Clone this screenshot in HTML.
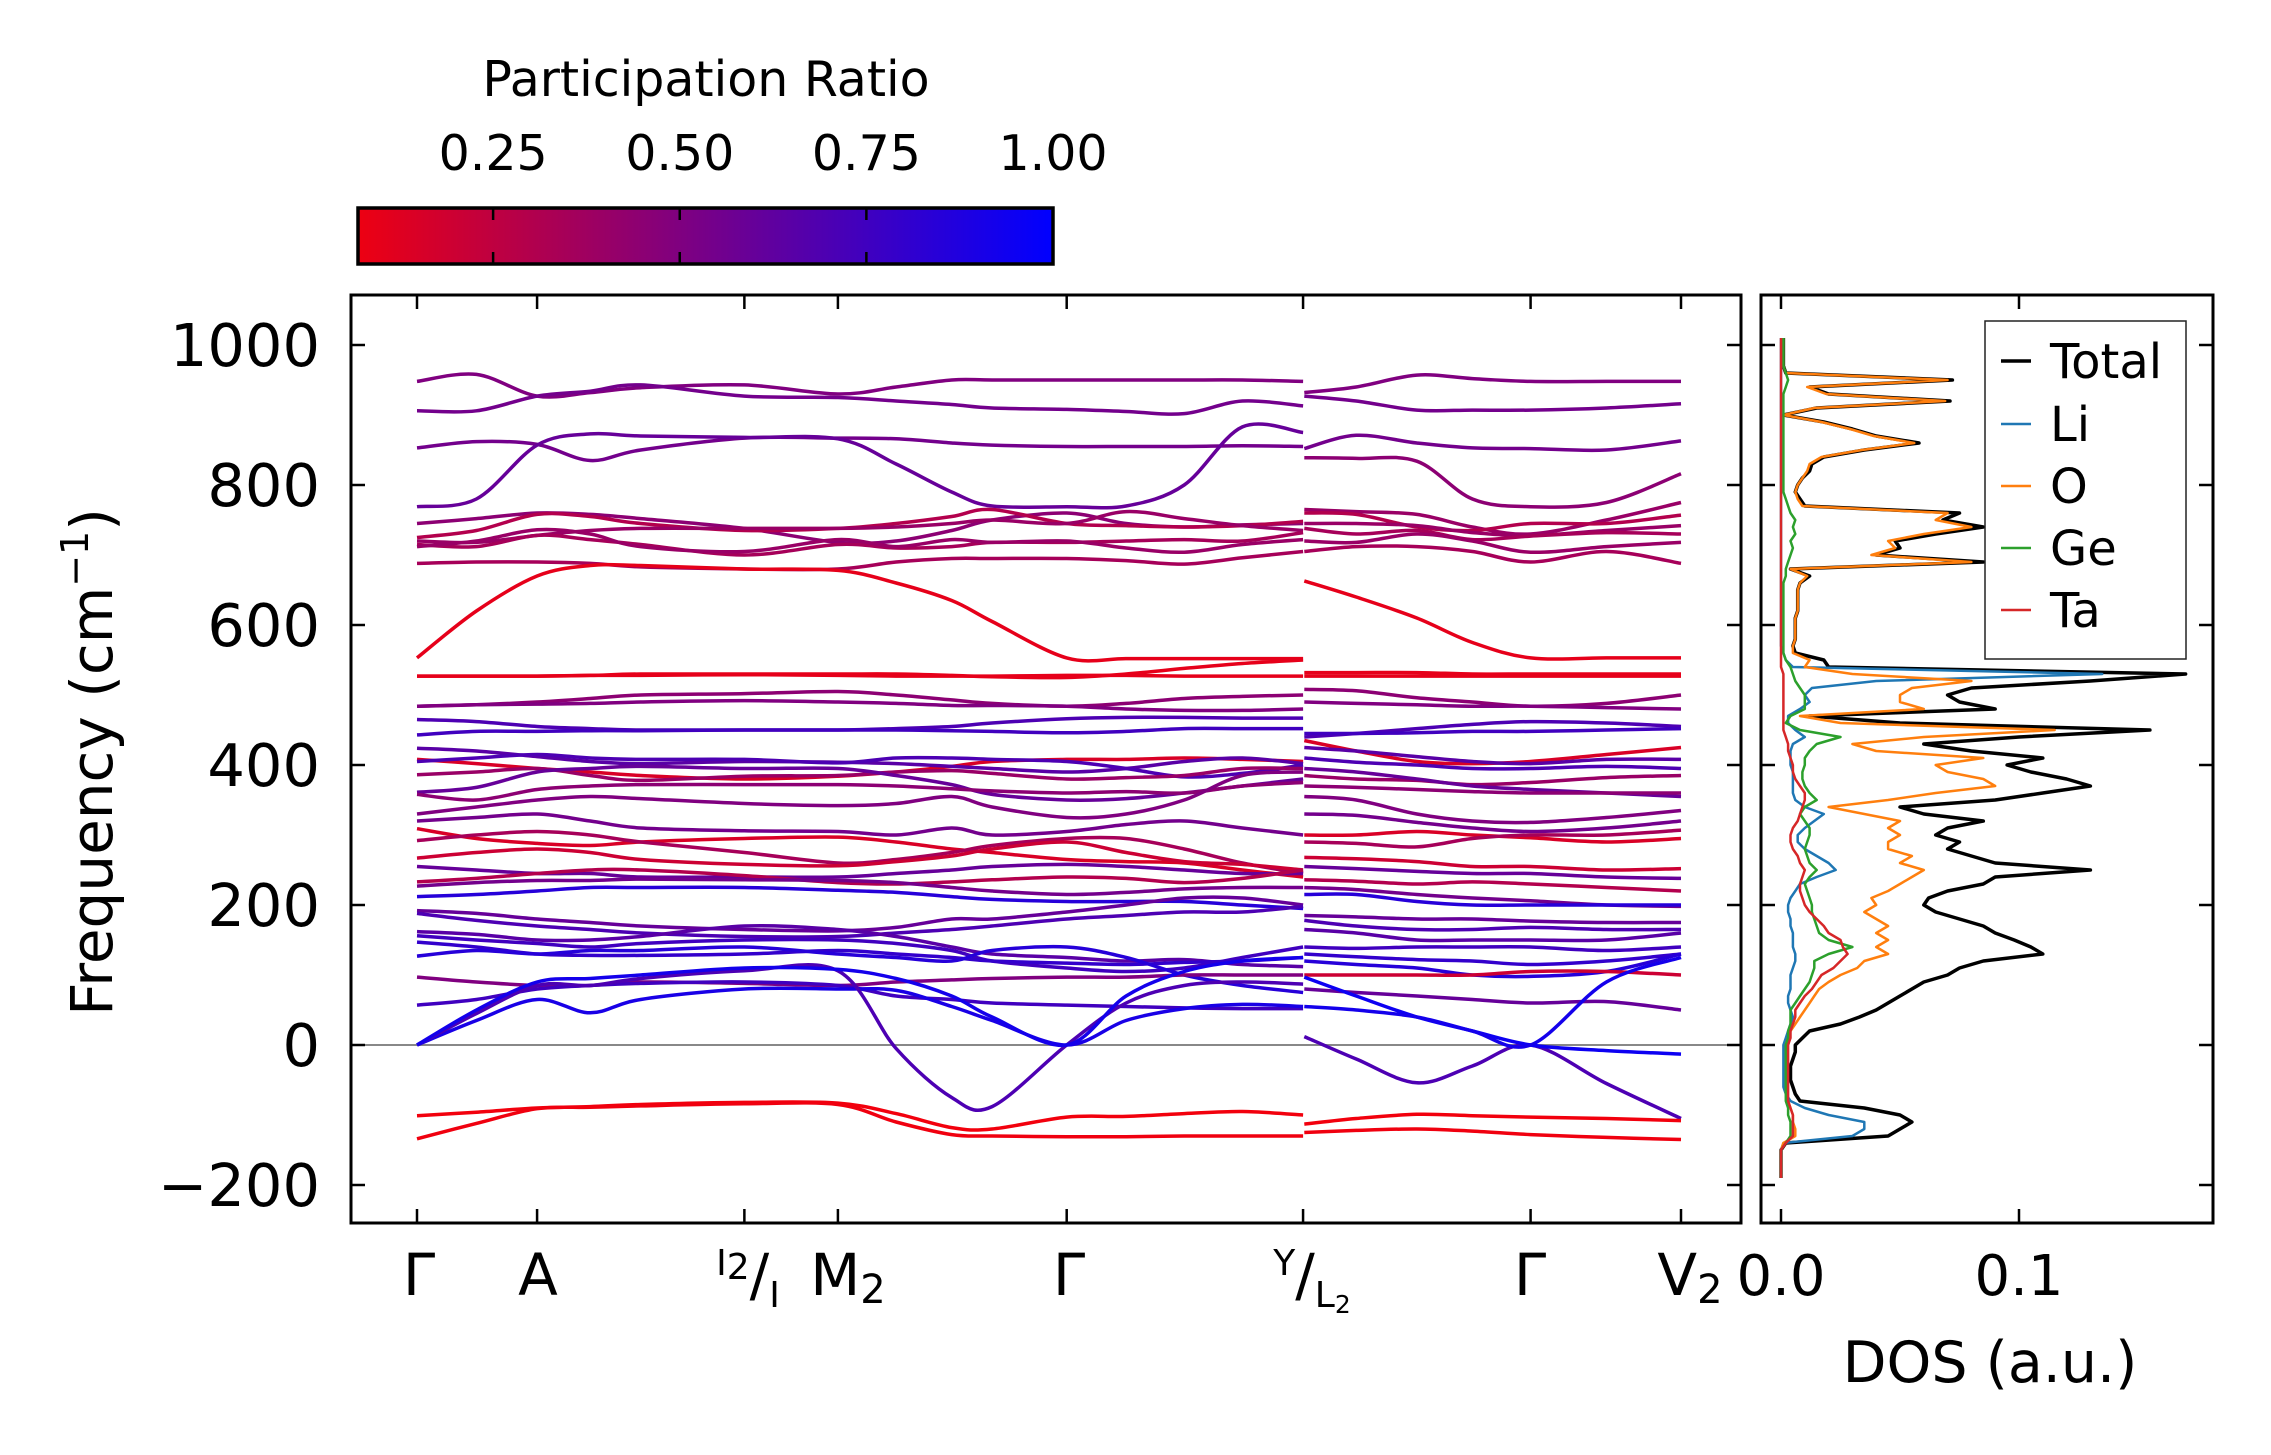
<!DOCTYPE html>
<html><head><meta charset="utf-8"><style>
html,body{margin:0;padding:0;background:#fff;}
svg{display:block;font-family:"DejaVu Sans","Liberation Sans",sans-serif;}
</style></head><body>
<svg id="fig" width="2271" height="1455" viewBox="0 0 2271 1455" xmlns="http://www.w3.org/2000/svg">
<defs>
<linearGradient id="prgrad" x1="0" x2="1" y1="0" y2="0">
<stop offset="0" stop-color="rgb(237,0,18)"/><stop offset="1" stop-color="rgb(0,0,255)"/>
</linearGradient>
<clipPath id="mainclip"><rect x="351" y="295" width="1390" height="928"/></clipPath>
<clipPath id="dosclip"><rect x="1761" y="295" width="452" height="928"/></clipPath>
</defs>
<g id="colorbar">
<text x="706" y="96" font-size="49" text-anchor="middle">Participation Ratio</text>
<rect x="358" y="208" width="695" height="56" fill="url(#prgrad)" stroke="#000" stroke-width="3.5"/>
</g>
<g id="bands" clip-path="url(#mainclip)"></g>
<g id="dos" clip-path="url(#dosclip)"></g>
<g id="axes"></g>
<g>
<rect x="1985" y="321" width="201" height="338" fill="#fff" stroke="#222" stroke-width="1.5"/>
<g><line x1="2001" x2="2031" y1="361" y2="361" stroke="#000" stroke-width="3.5"/><text x="2050" y="378" font-size="48">Total</text></g>
<g><line x1="2001" x2="2031" y1="424" y2="424" stroke="#1f77b4" stroke-width="2.5"/><text x="2050" y="441" font-size="48">Li</text></g>
<g><line x1="2001" x2="2031" y1="486" y2="486" stroke="#ff7f0e" stroke-width="2.5"/><text x="2050" y="503" font-size="48">O</text></g>
<g><line x1="2001" x2="2031" y1="548" y2="548" stroke="#2ca02c" stroke-width="2.5"/><text x="2050" y="565" font-size="48">Ge</text></g>
<g><line x1="2001" x2="2031" y1="610" y2="610" stroke="#d62728" stroke-width="2.5"/><text x="2050" y="627" font-size="48">Ta</text></g>
</g>
<text transform="translate(112,762) rotate(-90)" font-size="58" text-anchor="middle">Frequency (cm<tspan font-size="38" dy="-24">−1</tspan><tspan dy="24">)</tspan></text>
<text x="1990" y="1382" font-size="57" text-anchor="middle">DOS (a.u.)</text>
<g font-size="58" text-anchor="middle">
<text x="419" y="1295">Γ</text>
<text x="538" y="1295">A</text>
<text x="748" y="1295"><tspan font-size="36" dy="-20">I</tspan><tspan font-size="36" dy="4">2</tspan><tspan dy="16">/</tspan><tspan font-size="36" dy="12">I</tspan></text>
<text x="848" y="1295">M<tspan font-size="40" dy="8">2</tspan></text>
<text x="1069" y="1295">Γ</text>
<text x="1312" y="1295"><tspan font-size="36" dy="-20">Y</tspan><tspan dy="20">/</tspan><tspan font-size="36" dy="12">L</tspan><tspan font-size="25" dy="6">2</tspan></text>
<text x="1530" y="1295">Γ</text>
<text x="1690" y="1295">V<tspan font-size="40" dy="8">2</tspan></text>
</g>
</svg>
<script>
// ---------- data ----------
const kLeft = [0,0.047,0.095,0.137,0.177,0.259,0.333,0.379,0.423,0.455,0.514,0.561,0.607,0.653,0.701];
const kRight = [0.702,0.743,0.791,0.835,0.881,0.941,1.0];
const kTicks = [0,0.095,0.259,0.333,0.514,0.701,0.881,1.0];
const freqTicks = [-200,0,200,400,600,800,1000];
const prTicks = [0.25,0.5,0.75,1.0];
const prTickLabels = ["0.25","0.50","0.75","1.00"];
const dosTicks = [0.0,0.1];
const dosTickLabels = ["0.0","0.1"];

const bandsLeft = [
[948,958,927,932,939,943,930,940,950,950,950,950,950,950,948],
[906,906,927,934,943,927,925,920,915,910,908,905,902,920,913],
[853,862,858,835,850,867,867,866,860,857,855,855,855,856,855],
[769,780,857,873,870,868,866,830,790,770,769,770,800,883,875],
[745,752,760,758,752,738,718,720,735,750,760,745,740,743,745],
[725,735,758,755,745,735,738,745,755,765,745,742,740,742,748],
[720,718,728,735,738,738,738,740,745,750,745,762,752,742,735],
[715,712,728,722,715,700,715,710,712,718,718,720,722,720,732],
[712,720,736,730,712,705,722,712,722,718,720,710,704,715,722],
[688,690,690,688,683,680,680,690,695,695,695,692,687,696,705],
[553,620,670,685,685,680,678,660,635,605,553,552,552,552,552],
[527,527,527,528,530,530,530,530,528,526,525,530,538,545,550],
[527,527,527,528,528,529,528,527,527,527,528,528,527,527,527],
[484,486,490,495,500,502,505,500,493,488,484,488,495,498,500],
[484,486,487,488,490,492,490,488,485,485,484,480,478,478,480],
[465,462,455,452,450,450,450,452,455,460,466,468,468,467,467],
[443,448,448,449,449,450,450,450,449,448,446,448,452,452,452],
[408,402,395,390,385,380,384,390,398,405,408,408,410,408,405],
[424,420,412,405,402,405,404,402,398,395,390,395,405,410,402],
[405,410,415,410,408,408,403,410,410,408,405,395,383,388,400],
[386,390,395,385,378,384,385,390,392,388,380,382,385,395,395],
[361,368,390,395,398,395,395,385,372,358,350,352,360,370,380],
[358,350,365,370,372,372,372,370,366,363,360,362,360,370,375],
[330,340,350,355,352,345,342,345,355,340,325,330,350,385,390],
[320,325,330,320,310,306,305,300,310,300,305,315,320,310,300],
[309,295,288,285,290,295,297,290,280,275,265,262,260,250,240],
[292,300,305,300,290,275,260,265,275,285,295,295,280,260,245],
[267,275,280,275,265,258,256,262,270,280,290,275,262,258,250],
[255,250,245,245,240,240,240,245,250,255,258,255,250,245,245],
[233,238,245,250,250,242,232,230,233,236,240,238,232,238,250],
[227,232,235,235,237,236,235,232,225,220,215,218,223,225,225],
[212,215,220,225,225,225,221,218,212,208,205,205,205,200,195],
[192,188,180,175,170,165,163,168,180,180,190,200,210,210,200],
[188,178,170,165,160,155,155,160,165,170,180,185,190,190,198],
[162,158,150,150,155,170,165,155,140,130,125,120,122,115,112],
[156,150,145,140,145,150,150,145,135,120,110,105,110,125,140],
[147,140,130,128,128,130,135,130,125,120,117,115,118,120,125],
[127,135,130,135,135,140,130,125,120,135,140,125,100,85,75],
[97,90,85,85,90,88,85,90,93,95,97,97,100,100,100],
[57,65,80,85,88,90,85,70,65,60,57,55,53,52,52],
[0,35,65,46,65,80,80,78,55,35,0,35,52,58,55],
[0,45,85,85,95,106,106,-5,-75,-88,0,60,85,90,87],
[0,50,90,95,100,110,108,95,70,40,0,70,105,120,125],
[-101,-96,-90,-88,-85,-82,-83,-98,-118,-120,-103,-102,-98,-95,-100],
[-134,-112,-91,-89,-87,-84,-85,-110,-128,-130,-131,-131,-130,-130,-130]
];
const bandsRight = [
[932,940,957,952,948,948,948],
[927,920,907,907,907,910,916],
[852,871,860,853,852,850,863],
[839,838,834,780,769,775,816],
[765,762,758,740,730,750,775],
[760,758,740,735,745,745,757],
[745,745,742,732,728,735,742],
[738,730,735,722,727,732,730],
[720,718,730,720,704,712,718],
[705,712,712,705,690,705,688],
[663,640,610,575,553,553,553],
[527,527,527,527,527,527,527],
[532,532,532,530,530,530,530],
[508,506,496,490,484,488,500],
[490,488,486,484,484,482,480],
[440,445,452,458,462,460,455],
[445,445,446,448,448,450,452],
[435,420,405,402,405,415,425],
[425,420,412,405,402,408,408],
[410,404,400,395,395,398,395],
[385,380,378,372,375,382,385],
[395,390,380,370,365,360,355],
[370,368,365,362,360,360,360],
[355,350,330,320,318,325,335],
[330,328,318,310,305,310,320],
[300,300,305,300,296,290,295],
[290,288,283,295,300,300,307],
[268,266,262,255,255,250,252],
[255,252,248,245,245,240,238],
[236,234,230,233,230,225,220],
[225,222,215,210,206,200,198],
[215,215,205,200,200,200,200],
[185,183,180,180,177,175,175],
[178,170,165,165,168,165,165],
[165,160,150,150,150,150,160],
[140,138,140,140,140,135,140],
[130,126,122,120,115,120,130],
[120,115,110,100,98,105,130],
[100,100,100,100,105,105,100],
[80,75,70,65,60,62,50],
[12,-20,-54,-30,0,-55,-105],
[97,70,40,20,0,-8,-13],
[55,50,40,20,0,90,125],
[-113,-105,-99,-101,-103,-105,-108],
[-125,-122,-120,-123,-128,-132,-135]
];
const prLeft = [0.5,0.55,0.55,0.6,0.45,0.3,0.4,0.35,0.4,0.35,0.1,0.1,0.1,0.45,0.5,0.7,0.75,0.15,0.65,0.7,0.4,0.6,0.45,0.5,0.55,0.15,0.35,0.2,0.6,0.3,0.55,0.85,0.6,0.7,0.65,0.75,0.8,0.85,0.5,0.75,0.9,0.7,0.92,0.05,0.06];
const prRight = [0.5,0.55,0.55,0.45,0.4,0.3,0.4,0.35,0.4,0.35,0.1,0.1,0.1,0.45,0.5,0.7,0.75,0.15,0.65,0.7,0.4,0.6,0.45,0.5,0.55,0.15,0.35,0.2,0.6,0.3,0.55,0.85,0.6,0.7,0.65,0.75,0.8,0.85,0.2,0.6,0.7,0.95,0.92,0.05,0.06];

const dosFreq = [-190,-180,-170,-160,-150,-140,-130,-120,-110,-100,-90,-80,-70,-60,-50,-40,-30,-20,-10,0,10,20,30,40,50,60,70,80,90,100,110,120,130,140,150,160,170,180,190,200,210,220,230,240,250,260,270,280,290,300,310,320,330,340,350,360,370,380,390,400,410,420,430,440,450,460,470,480,490,500,510,520,530,540,550,560,570,580,590,600,610,620,630,640,650,660,670,680,690,700,710,720,730,740,750,760,770,780,790,800,810,820,830,840,850,860,870,880,890,900,910,920,930,940,950,960,970,980,990,1000,1010];
const dosTotal = [0,0,0,0,0,0.002,0.045,0.05,0.055,0.05,0.035,0.008,0.006,0.005,0.004,0.004,0.004,0.005,0.006,0.006,0.009,0.012,0.025,0.033,0.04,0.045,0.05,0.055,0.06,0.07,0.075,0.085,0.11,0.105,0.098,0.09,0.085,0.075,0.065,0.06,0.062,0.07,0.085,0.09,0.13,0.09,0.08,0.07,0.075,0.065,0.07,0.085,0.06,0.05,0.09,0.11,0.13,0.12,0.105,0.095,0.11,0.08,0.06,0.1,0.155,0.05,0.012,0.09,0.075,0.07,0.08,0.13,0.17,0.02,0.018,0.006,0.005,0.006,0.006,0.006,0.006,0.007,0.007,0.007,0.007,0.008,0.012,0.004,0.085,0.04,0.05,0.048,0.065,0.085,0.068,0.075,0.01,0.008,0.006,0.007,0.009,0.012,0.013,0.018,0.035,0.058,0.04,0.03,0.018,0.001,0.015,0.071,0.02,0.012,0.072,0.002,0.001,0.001,0.001,0.001,0.001];
const dosO = [0,0,0,0,0,0.001,0.006,0.006,0.005,0.005,0.004,0.003,0.002,0.002,0.002,0.002,0.002,0.002,0.002,0.002,0.003,0.004,0.006,0.008,0.01,0.012,0.014,0.016,0.02,0.025,0.032,0.035,0.045,0.04,0.045,0.04,0.045,0.04,0.035,0.04,0.038,0.045,0.05,0.055,0.06,0.05,0.055,0.045,0.045,0.05,0.045,0.05,0.035,0.02,0.045,0.065,0.09,0.085,0.07,0.065,0.085,0.04,0.03,0.06,0.115,0.025,0.008,0.06,0.05,0.05,0.055,0.08,0.03,0.01,0.012,0.005,0.005,0.006,0.006,0.006,0.006,0.007,0.007,0.007,0.007,0.008,0.011,0.004,0.08,0.038,0.048,0.045,0.06,0.08,0.065,0.07,0.009,0.007,0.006,0.007,0.009,0.011,0.012,0.017,0.034,0.056,0.039,0.029,0.017,0.001,0.014,0.069,0.019,0.011,0.07,0.002,0.001,0.001,0.001,0.001,0.001];
const dosLi = [0,0,0,0,0,0.001,0.03,0.035,0.035,0.02,0.01,0.004,0.002,0.001,0.001,0.001,0.001,0.001,0.001,0.001,0.002,0.003,0.004,0.005,0.004,0.003,0.003,0.004,0.004,0.004,0.005,0.006,0.006,0.005,0.005,0.005,0.004,0.004,0.003,0.003,0.004,0.006,0.008,0.015,0.023,0.02,0.015,0.01,0.007,0.007,0.01,0.014,0.018,0.01,0.006,0.005,0.005,0.005,0.005,0.004,0.004,0.004,0.005,0.01,0.006,0.003,0.003,0.008,0.012,0.01,0.013,0.04,0.135,0.005,0.002,0.001,0,0,0,0,0,0,0,0,0,0,0,0,0,0,0,0,0,0,0,0,0,0,0,0,0,0,0,0,0,0,0,0,0,0,0,0,0,0,0,0,0,0,0,0,0];
const dosGe = [0,0,0,0,0,0.002,0.004,0.004,0.004,0.003,0.003,0.002,0.002,0.002,0.002,0.002,0.002,0.002,0.002,0.002,0.003,0.003,0.004,0.004,0.004,0.006,0.008,0.01,0.012,0.013,0.014,0.014,0.02,0.03,0.02,0.016,0.015,0.014,0.013,0.013,0.012,0.011,0.01,0.012,0.015,0.012,0.011,0.01,0.011,0.012,0.012,0.01,0.008,0.01,0.015,0.012,0.01,0.009,0.009,0.01,0.01,0.012,0.015,0.025,0.008,0.002,0.004,0.01,0.01,0.01,0.008,0.006,0.005,0.004,0.002,0.001,0.001,0.001,0.001,0.001,0.001,0.001,0.001,0.001,0.001,0.001,0.002,0.002,0.003,0.004,0.005,0.004,0.006,0.005,0.006,0.004,0.003,0.002,0.001,0.001,0.001,0.001,0.001,0.001,0.001,0.001,0.001,0.001,0.001,0.001,0.001,0.001,0.001,0.002,0.003,0.002,0.001,0.001,0.001,0.001,0.001];
const dosTa = [0,0,0,0,0,0.002,0.005,0.005,0.005,0.005,0.004,0.003,0.003,0.003,0.003,0.003,0.003,0.003,0.003,0.003,0.004,0.004,0.005,0.006,0.006,0.008,0.01,0.013,0.015,0.017,0.022,0.025,0.028,0.026,0.025,0.02,0.018,0.015,0.012,0.01,0.009,0.008,0.008,0.009,0.01,0.008,0.007,0.005,0.004,0.004,0.005,0.007,0.008,0.009,0.01,0.01,0.008,0.006,0.005,0.005,0.004,0.003,0.003,0.002,0.001,0.001,0.001,0.001,0.001,0.001,0.001,0.001,0.001,0,0,0,0,0,0,0,0,0,0,0,0,0,0,0,0,0,0,0,0,0,0,0,0,0,0,0,0,0,0,0,0,0,0,0,0,0,0,0,0,0,0,0,0,0,0,0,0,0];

// ---------- scales ----------
const NS = "http://www.w3.org/2000/svg";
function xK(k){ return 417 + k*1264; }
function yF(f){ return 1045 - f*0.700; }
function xD(d){ return 1781 + d*2380; }
function xPR(p){ return 358 + (p-0.069)/(1-0.069)*695; }
function prColor(p){ return "rgb(" + Math.round(255*(1-p)) + ",0," + Math.round(255*p) + ")"; }
function smooth(pts){
  let d = "M" + pts[0][0].toFixed(1) + "," + pts[0][1].toFixed(1);
  for (let i=0;i<pts.length-1;i++){
    const p0 = pts[i-1]||pts[i], p1 = pts[i], p2 = pts[i+1], p3 = pts[i+2]||pts[i+1];
    const c1x = p1[0]+(p2[0]-p0[0])/6, c1y = p1[1]+(p2[1]-p0[1])/6;
    const c2x = p2[0]-(p3[0]-p1[0])/6, c2y = p2[1]-(p3[1]-p1[1])/6;
    d += "C"+c1x.toFixed(1)+","+c1y.toFixed(1)+" "+c2x.toFixed(1)+","+c2y.toFixed(1)+" "+p2[0].toFixed(1)+","+p2[1].toFixed(1);
  }
  return d;
}
function mk(tag, attrs, parent){
  const e = document.createElementNS(NS, tag);
  for (const k in attrs) e.setAttribute(k, attrs[k]);
  parent.appendChild(e); return e;
}

// ---------- bands ----------
const gB = document.getElementById("bands");
const zl = mk("line",{x1:351,x2:1741,y1:yF(0),y2:yF(0),stroke:"#888","stroke-width":2},gB);


bandsLeft.forEach((b,i)=>{
  const p = mk("path",{d:smooth(b.map((f,j)=>[xK(kLeft[j]),yF(f)])),fill:"none",stroke:prColor(prLeft[i]),"stroke-width":3.5},gB);
  
  
});
bandsRight.forEach((b,i)=>{
  const p = mk("path",{d:smooth(b.map((f,j)=>[xK(kRight[j]),yF(f)])),fill:"none",stroke:prColor(prRight[i]),"stroke-width":3.5},gB);
  
  
});

// ---------- DOS ----------
const gD = document.getElementById("dos");
const series = [["total",dosTotal,"#000",3.5],["li",dosLi,"#1f77b4",2.5],["o",dosO,"#ff7f0e",2.5],["ge",dosGe,"#2ca02c",2.5],["ta",dosTa,"#d62728",2.5]];
series.forEach(s=>{
  const pts = s[1].map((v,j)=>xD(v).toFixed(1)+","+yF(dosFreq[j]).toFixed(1)).join(" ");
  const pl = mk("polyline",{points:pts,fill:"none",stroke:s[2],"stroke-width":s[3],"stroke-linejoin":"round"},gD);
  
  
});

// ---------- axes ----------
const gA = document.getElementById("axes");
const fr1 = mk("rect",{x:351,y:295,width:1390,height:928,fill:"none",stroke:"#000","stroke-width":3},gA);


const fr2 = mk("rect",{x:1761,y:295,width:452,height:928,fill:"none",stroke:"#000","stroke-width":3},gA);


freqTicks.forEach(f=>{
  const y = yF(f);
  [[351,365],[1741,1727],[1761,1775],[2213,2199]].forEach(p=>{
    const t = mk("line",{x1:p[0],x2:p[1],y1:y,y2:y,stroke:"#000","stroke-width":2.5},gA);
    
    
  });
  const lab = mk("text",{x:320,y:y+21,"font-size":59,"text-anchor":"end"},gA);
  lab.textContent = f<0 ? "−"+Math.abs(f) : String(f);
  
  
});
kTicks.forEach(k=>{
  const x = xK(k);
  [[295,309],[1223,1209]].forEach(p=>{
    const t = mk("line",{x1:x,x2:x,y1:p[0],y2:p[1],stroke:"#000","stroke-width":2.5},gA);
    
    
  });
});
dosTicks.forEach((d,i)=>{
  const x = xD(d);
  [[295,309],[1223,1209]].forEach(p=>{
    const t = mk("line",{x1:x,x2:x,y1:p[0],y2:p[1],stroke:"#000","stroke-width":2.5},gA);
    
    
  });
  const lab = mk("text",{x:x,y:1295,"font-size":56,"text-anchor":"middle"},gA);
  lab.textContent = dosTickLabels[i];
  
  
});
const gC = document.getElementById("colorbar");
prTicks.forEach((p,i)=>{
  const x = xPR(p);
  if (p < 1) {
    [[208,220],[264,252]].forEach(q=>{
      const t = mk("line",{x1:x,x2:x,y1:q[0],y2:q[1],stroke:"#000","stroke-width":2.5},gC);
      
      
    });
  }
  const lab = mk("text",{x:x,y:170,"font-size":49,"text-anchor":"middle"},gC);
  lab.textContent = prTickLabels[i];
  
  
});
</script>
</body></html>
